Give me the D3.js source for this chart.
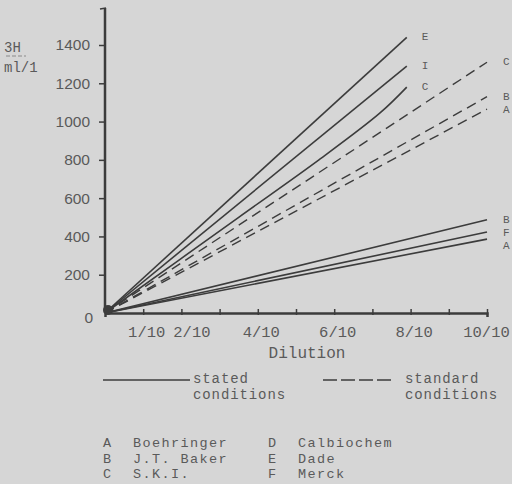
<!DOCTYPE html>
<html>
<head>
<meta charset="utf-8">
<script src="https://cdn.jsdelivr.net/npm/d3@7"></script>
<style>
  body { margin: 0; background: #d6d6d6; }
  svg { display: block; }
  text { fill: #5a5a5a; }
</style>
</head>
<body>
<svg id="chart" width="512" height="484"></svg>
<script>
// dilution (fraction) vs activity
const xTicks = [0.1, 0.2, 0.3, 0.4, 0.5, 0.6, 0.7, 0.8, 0.9, 1.0];
const xLabelled = [0.1, 0.2, 0.4, 0.6, 0.8, 1.0];
const yTicks = [0, 200, 400, 600, 800, 1000, 1200, 1400];

// stated conditions (solid)
const statedE = [[0, 0], [0.79, 1440]];
const statedD = [[0, 0], [0.79, 1290]];
const statedC = [[0, 0], [0.35, 500], [0.56, 800], [0.72, 1045], [0.79, 1180]];
const statedB = [[0, 0], [1.0, 487]];
const statedF = [[0, 0], [1.0, 423]];
const statedA = [[0, 0], [1.0, 386]];
// standard conditions (dashed)
const standardC = [[0, 0], [1.0, 1310]];
const standardB = [[0, 0], [1.0, 1130]];
const standardA = [[0, 0], [1.0, 1065]];

const series = [
    { name: "E", pts: statedE, dashed: false, lab: "E" },
    { name: "D", pts: statedD, dashed: false, lab: "I" },
    { name: "C", pts: statedC, dashed: false, lab: "C" },
    { name: "B", pts: statedB, dashed: false, lab: "B" },
    { name: "F", pts: statedF, dashed: false, lab: "F" },
    { name: "A", pts: statedA, dashed: false, lab: "A" },
    { name: "C", pts: standardC, dashed: true, lab: "C" },
    { name: "B", pts: standardB, dashed: true, lab: "B" },
    { name: "A", pts: standardA, dashed: true, lab: "A" },
];

const companies = [
    ["A", "Boehringer"], ["B", "J.T. Baker"], ["C", "S.K.I."],
    ["D", "Calbiochem"], ["E", "Dade"], ["F", "Merck"]
];

const mono = "'Liberation Mono', 'DejaVu Sans Mono', monospace";
const ink = "#3c3c3c";

const svg = d3.select("#chart");

const x = d3.scaleLinear().domain([0, 1]).range([105, 487]);
const y = d3.scaleLinear().domain([0, 1400]).range([313, 45]);

// y axis
const yAxis = svg.append("g")
    .attr("transform", `translate(${x(0)},0)`)
    .call(d3.axisLeft(y).tickValues(yTicks.filter(d => d > 0)).tickSize(6).tickPadding(9).tickFormat(d3.format("d")));
yAxis.select(".domain").remove();
yAxis.selectAll(".tick line").attr("stroke", ink).attr("stroke-width", 1.5);
yAxis.selectAll(".tick text")
    .attr("font-family", "'Liberation Sans', Arial, sans-serif")
    .attr("font-size", 15.5)
    .attr("fill", "#626262");

svg.append("text")
    .attr("x", x(0) - 12).attr("y", y(0) + 10)
    .attr("text-anchor", "end")
    .attr("font-family", "'Liberation Sans', Arial, sans-serif")
    .attr("font-size", 15.5)
    .attr("fill", "#626262")
    .text(yTicks[0]);

svg.append("line")
    .attr("x1", x(0)).attr("x2", x(0))
    .attr("y1", 8).attr("y2", y(0))
    .attr("stroke", ink).attr("stroke-width", 2.5);
svg.append("line")
    .attr("x1", x(0) - 5).attr("x2", x(0) + 1)
    .attr("y1", 9).attr("y2", 8)
    .attr("stroke", ink).attr("stroke-width", 1.5);

// x axis
const xAxis = svg.append("g")
    .attr("transform", `translate(0,${y(0)})`)
    .call(d3.axisBottom(x).tickValues(xTicks).tickSize(4).tickPadding(9)
        .tickFormat(d => xLabelled.some(v => Math.abs(v - d) < 1e-9) ? `${Math.round(d * 10)}/10` : ""));
xAxis.select(".domain").attr("stroke", ink).attr("stroke-width", 2.5);
xAxis.selectAll(".tick line").attr("stroke", ink).attr("stroke-width", 1.5).attr("y2", -4).attr("y1", 2);
xAxis.selectAll(".tick text")
    .attr("font-family", mono)
    .attr("font-size", 15.5)
    .attr("fill", "#626262")
    .attr("dx", d => Math.abs(d - 0.2) < 1e-9 ? 10 : (d > 0.95 ? -1 : 3));

svg.append("text")
    .attr("x", 307).attr("y", 358)
    .attr("text-anchor", "middle")
    .attr("font-family", mono).attr("font-size", 16)
    .text("Dilution");

// y unit label
svg.append("text").attr("x", 4).attr("y", 52)
    .attr("font-family", mono).attr("font-size", 14).attr("fill", "#7a7a7a").text("3H");
svg.append("line").attr("x1", 6).attr("x2", 26).attr("y1", 56).attr("y2", 56)
    .attr("stroke", "#8a8a8a").attr("stroke-width", 1).attr("stroke-dasharray", "4,2");
svg.append("text").attr("x", 4).attr("y", 72)
    .attr("font-family", mono).attr("font-size", 14).attr("fill", "#7a7a7a").text("ml/1");

// lines
const line = d3.line().x(d => x(d[0])).y(d => y(d[1])).curve(d3.curveCatmullRom);

svg.selectAll("path.series")
    .data(series)
    .join("path")
    .attr("class", "series")
    .attr("fill", "none")
    .attr("stroke", ink)
    .attr("stroke-width", d => d.dashed ? 1.4 : 1.6)
    .attr("stroke-dasharray", d => d.dashed ? "10,6" : null)
    .attr("d", d => line(d.pts));

svg.append("circle")
    .attr("cx", x(0) + 3).attr("cy", y(0) - 3).attr("r", 5)
    .attr("fill", ink);

// end labels, pushed apart a little where they crowd
const labs = series.map(d => {
    const last = d.pts[d.pts.length - 1];
    return { lab: d.lab, lx: x(last[0]) + (last[0] < 0.9 ? 15 : 16), ly: y(last[1]) + 3 };
});
d3.groups(labs, d => d.lx).forEach(([, g]) => {
    g.sort((a, b) => a.ly - b.ly);
    for (let i = 1; i < g.length; i++)
        if (g[i].ly - g[i - 1].ly < 13) g[i].ly = g[i - 1].ly + 13;
});
svg.selectAll("text.endlab")
    .data(labs)
    .join("text")
    .attr("class", "endlab")
    .attr("x", d => d.lx)
    .attr("y", d => d.ly)
    .attr("font-family", mono).attr("font-size", 11)
    .attr("fill", "#6a6a6a")
    .text(d => d.lab);

// style legend
svg.append("line").attr("x1", 103).attr("x2", 190).attr("y1", 380).attr("y2", 380)
    .attr("stroke", ink).attr("stroke-width", 1.5);
svg.append("line").attr("x1", 323).attr("x2", 395).attr("y1", 380).attr("y2", 380)
    .attr("stroke", ink).attr("stroke-width", 1.5).attr("stroke-dasharray", "14,4");

const legText = [
    [193, 383, "stated"], [193, 399, "conditions"],
    [405, 383, "standard"], [405, 399, "conditions"]
];
svg.selectAll("text.leg")
    .data(legText)
    .join("text")
    .attr("class", "leg")
    .attr("x", d => d[0]).attr("y", d => d[1])
    .attr("font-family", mono).attr("font-size", 14)
    .attr("letter-spacing", 0.9)
    .text(d => d[2]);

// company list
const rows = svg.selectAll("g.company")
    .data(companies)
    .join("g")
    .attr("class", "company")
    .attr("transform", (d, i) => `translate(${i < 3 ? 103 : 268},${447 + (i % 3) * 15.5})`);
rows.append("text").attr("font-family", mono).attr("font-size", 13.5).text(d => d[0]);
rows.append("text").attr("x", 30).attr("font-family", mono).attr("font-size", 13.5)
    .attr("letter-spacing", 1.4).text(d => d[1]);
</script>
</body>
</html>
